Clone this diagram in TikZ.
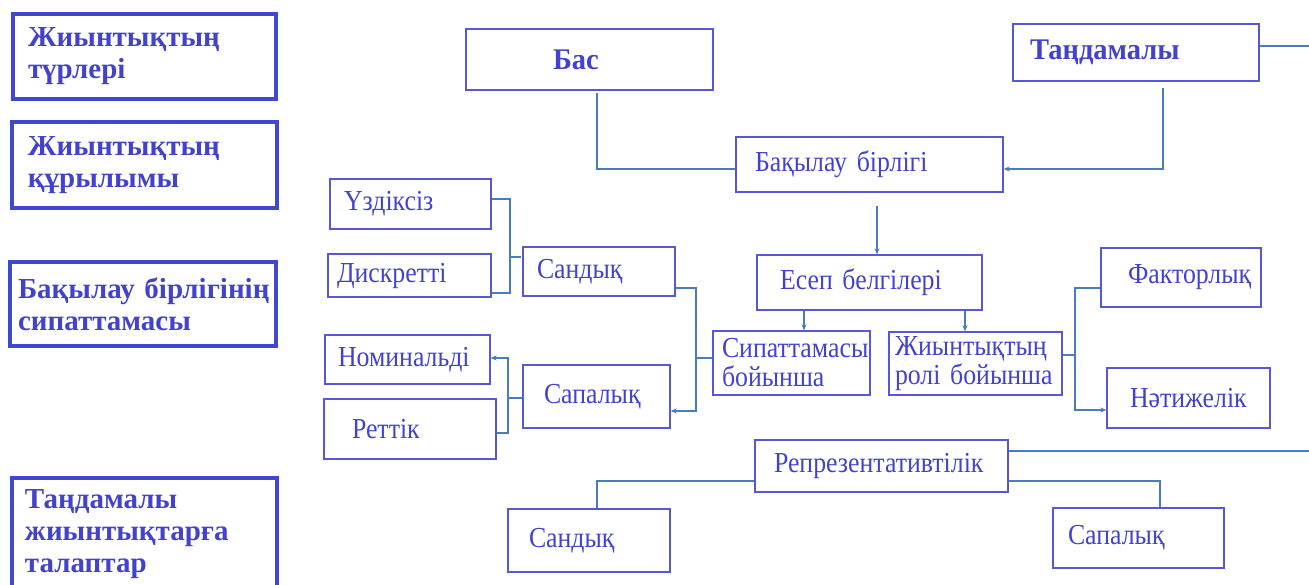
\documentclass[tikz,border=0pt]{standalone}
\usepackage{fontspec}
\setmainfont{Liberation Serif}
\newfontfamily\condfont[FakeStretch=0.89]{Liberation Serif}
\newfontfamily\condbold[FakeStretch=0.95]{Liberation Serif Bold}
\usetikzlibrary{calc,arrows.meta}
\definecolor{txt}{RGB}{66,66,204}
\definecolor{bord}{RGB}{88,88,214}
\definecolor{lbord}{RGB}{64,72,210}
\definecolor{cnc}{RGB}{72,124,188}
\newcommand{\pl}[2]{\hspace*{#1pt}\mbox{#2}}
\tikzset{
 bx/.style={draw=bord, line width=1.3pt, text=txt, inner xsep=0pt, inner ysep=0pt, align=left, font=\condfont\fontsize{29}{29}\selectfont},
 bbx/.style={bx, font=\condbold\fontsize{30}{32}\selectfont},
 lbx/.style={draw=lbord, line width=3.5pt, text=txt, inner xsep=0pt, inner ysep=0pt, align=left, font=\bfseries\fontsize{29}{32}\selectfont},
 cn/.style={draw=cnc, line width=2.2pt},
 ar/.style={cn, -{Stealth[length=6pt,width=5pt]}},
}
\begin{document}
\begin{tikzpicture}[x=1pt,y=-1pt]
\useasboundingbox (0,0) rectangle (1309,584);
\fill[white] (0,0) rectangle (1309,584);
% left boxes
\node[lbx, minimum width=263pt, minimum height=85pt, text width=263pt] (L1) at (144.5,56.5) {\pl{15}{Жиынтықтың}\\\pl{15}{түрлері}};
\node[lbx, minimum width=265pt, minimum height=86pt, text width=265pt] (L2) at (144.5,165) {\pl{16}{Жиынтықтың}\\\pl{16}{құрылымы}};
\node[lbx, minimum width=266pt, minimum height=84pt, text width=266pt] (L3) at (143,304) {\pl{8}{Бақылау бірлігінің}\\\pl{8}{сипаттамасы}};
\node[lbx, minimum width=265pt, minimum height=112pt, text width=265pt] (L4) at (144.5,534) {\pl{13}{Таңдамалы}\\\pl{13}{жиынтықтарға}\\\pl{13}{талаптар}};
% top
\node[bbx, minimum width=247pt, minimum height=61pt, text width=247pt] (bas) at (589.5,59.5) {\pl{87}{Бас}};
\node[bbx, minimum width=246pt, minimum height=57pt, text width=246pt] (tand) at (1136,52.5) {\pl{17}{Таңдамалы}};
\node[bx, minimum width=267pt, minimum height=55pt, text width=267pt] (bb) at (869.5,164.5) {\pl{19}{Бақылау бірлігі}};
\node[bx, minimum width=225pt, minimum height=55pt, text width=225pt] (esep) at (869.5,282.5) {\pl{23}{Есеп белгілері}};
\node[bx, minimum width=157pt, minimum height=64pt, text width=157pt] (sip) at (791.5,363) {\pl{9}{Сипаттамасы}\\\pl{9}{бойынша}};
\node[bx, minimum width=173pt, minimum height=63pt, text width=173pt] (rol) at (975.5,363.5) {\pl{6}{Жиынтықтың}\\\pl{6}{ролі бойынша}};
\node[bx, minimum width=160pt, minimum height=59pt, text width=160pt] (fak) at (1181,277.5) {\pl{27}{Факторлық}};
\node[bx, minimum width=163pt, minimum height=60pt, text width=163pt] (net) at (1188.5,398) {\pl{23}{Нәтижелік}};
% left middle
\node[bx, minimum width=161pt, minimum height=50pt, text width=161pt] (uzd) at (410.5,204) {\pl{14}{Үздіксіз}};
\node[bx, minimum width=163pt, minimum height=43pt, text width=163pt] (disk) at (409.5,275.5) {\pl{9}{Дискретті}};
\node[bx, minimum width=152pt, minimum height=49pt, text width=152pt] (sand) at (599,271.5) {\pl{14}{Сандық}};
\node[bx, minimum width=165pt, minimum height=49pt, text width=165pt] (nom) at (407.5,359.5) {\pl{13}{Номинальді}};
\node[bx, minimum width=172pt, minimum height=60pt, text width=172pt] (ret) at (410,429) {\pl{28}{Реттік}};
\node[bx, minimum width=147pt, minimum height=63pt, text width=147pt] (sap) at (596.5,396.5) {\pl{21}{Сапалық}};
% bottom
\node[bx, minimum width=253pt, minimum height=52pt, text width=253pt] (rep) at (881.5,466) {\pl{19}{Репрезентативтілік}};
\node[bx, minimum width=162pt, minimum height=63pt, text width=162pt] (sand2) at (589,540.5) {\pl{21}{Сандық}};
\node[bx, minimum width=171pt, minimum height=60pt, text width=171pt] (sap2) at (1138.5,538) {\pl{15}{Сапалық}};
% free ends and junctions
\coordinate (e1) at (1309,46);
\coordinate (e2) at (1309,451);
\coordinate (j1) at (510,257);
\coordinate (j2) at (696,358);
\coordinate (j3) at (1075,355);
\coordinate (j4) at (508,398);
% connectors
\draw[cn] ($(bas.south)+(7.5,2)$) |- ($(bb.west)+(0,4.5)$);
\draw[ar] ($(tand.south)+(27,6)$) |- ($(bb.east)+(0,4.5)$);
\draw[cn] ($(tand.east)+(0,-6.5)$) -- (e1);
\draw[ar] ($(bb.south)+(7.5,13)$) -- ($(esep.north)+(7.5,0)$);
\draw[ar] ($(esep.south)+(-65.5,0)$) -- ($(sip.north)+(12.5,0)$);
\draw[ar] ($(esep.south)+(95.5,0)$) -- ($(rol.north)+(-10.5,0)$);
\draw[cn] ($(fak.west)+(0,10.5)$) -| (j3) -- ($(rol.east)+(0,-8.5)$);
\draw[ar] (j3) |- ($(net.west)+(0,12)$);
\draw[cn] ($(uzd.east)+(0,-5)$) -| (j1) |- ($(disk.east)+(0,17.5)$);
\draw[cn] (j1) -- ($(sand.west)+(-1,-14.5)$);
\draw[cn] ($(sand.east)+(0,16.5)$) -| (j2);
\draw[ar] (j2) |- ($(sap.east)+(0,14.5)$);
\draw[cn] (j2) -- ($(sip.west)+(0,-5)$);
\draw[ar] (j4) |- ($(nom.east)+(0,-1.5)$);
\draw[cn] (j4) |- ($(ret.east)+(0,4)$);
\draw[cn] (j4) -- ($(sap.west)+(0,1.5)$);
\draw[cn] ($(rep.east)+(0,-15)$) -- (e2);
\draw[cn] ($(rep.west)+(0,15)$) -| ($(sand2.north)+(8,0)$);
\draw[cn] ($(rep.east)+(0,15)$) -| ($(sap2.north)+(21.5,0)$);
\end{tikzpicture}
\end{document}
